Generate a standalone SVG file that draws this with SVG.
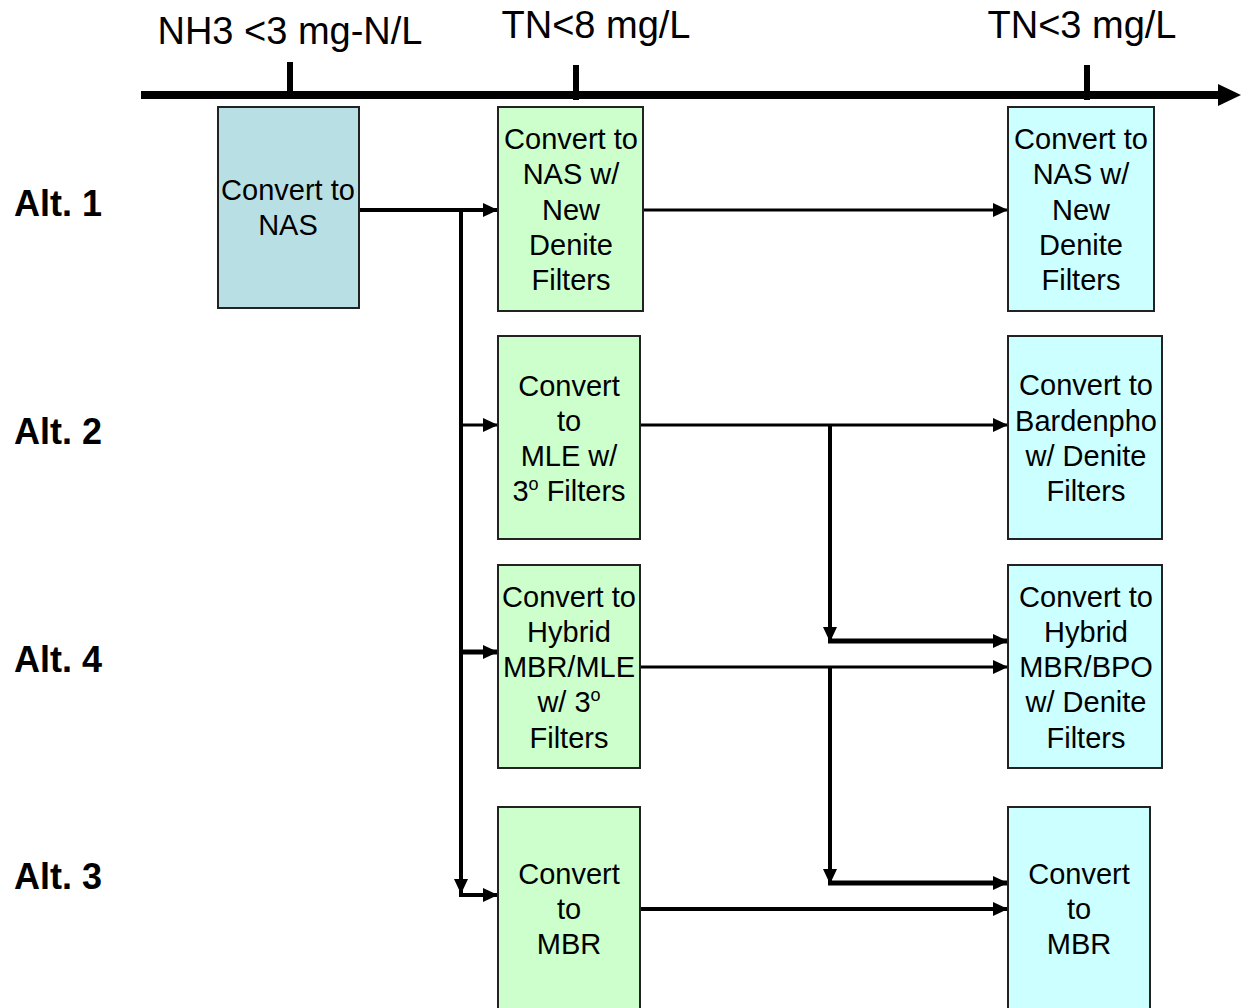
<svg xmlns="http://www.w3.org/2000/svg" width="1241" height="1008" viewBox="0 0 1241 1008">
<style>
text{font-family:"Liberation Sans",Arial,sans-serif;fill:#000}
.lbl{font-size:29px;text-anchor:middle}
.top{font-size:38px;text-anchor:middle}
.alt{font-size:36px;font-weight:bold}
.box{stroke:#222;stroke-width:2}
.g{fill:#ccffcc}
.c{fill:#ccffff}
.b{fill:#b8e0e4}
.ln{fill:none;stroke:#000}
.sup{font-size:18px}
</style>
<defs>
<marker id="ah" markerUnits="userSpaceOnUse" markerWidth="15" markerHeight="14" refX="15" refY="7" orient="auto">
<path d="M0,0 L15,7 L0,14 z" fill="#000"/>
</marker>
</defs>

<g id="timeline">
<line x1="141" y1="95" x2="1222" y2="95" stroke="#000" stroke-width="8"/>
<polygon points="1218,84 1241,95 1218,106" fill="#000"/>
<line x1="290" y1="62" x2="290" y2="95" stroke="#000" stroke-width="6"/>
<line x1="576" y1="65" x2="576" y2="100" stroke="#000" stroke-width="6"/>
<line x1="1087" y1="65" x2="1087" y2="100" stroke="#000" stroke-width="6"/>
<text class="top" x="290" y="44">NH3 &lt;3 mg-N/L</text>
<text class="top" x="596" y="38">TN&lt;8 mg/L</text>
<text class="top" x="1082" y="38">TN&lt;3 mg/L</text>
</g>

<g id="alt-labels">
<text class="alt" x="14" y="216">Alt. 1</text>
<text class="alt" x="14" y="444">Alt. 2</text>
<text class="alt" x="14" y="672">Alt. 4</text>
<text class="alt" x="14" y="889">Alt. 3</text>
</g>

<g id="connectors">
<path class="ln" stroke-width="4" d="M359,210 H498" marker-end="url(#ah)"/>
<path class="ln" stroke-width="4" d="M461,210 V894" marker-end="url(#ah)"/>
<path class="ln" stroke-width="4" d="M459,895 H498" marker-end="url(#ah)"/>
<path class="ln" stroke-width="3" d="M461,425 H498" marker-end="url(#ah)"/>
<path class="ln" stroke-width="5" d="M461,652 H498" marker-end="url(#ah)"/>
<path class="ln" stroke-width="3" d="M640,210 H1008" marker-end="url(#ah)"/>
<path class="ln" stroke-width="3" d="M640,425 H1008" marker-end="url(#ah)"/>
<path class="ln" stroke-width="4" d="M830,425 V642" marker-end="url(#ah)"/>
<path class="ln" stroke-width="5" d="M828,641 H1008" marker-end="url(#ah)"/>
<path class="ln" stroke-width="3" d="M640,667 H1008" marker-end="url(#ah)"/>
<path class="ln" stroke-width="4" d="M830,667 V884" marker-end="url(#ah)"/>
<path class="ln" stroke-width="5" d="M828,883 H1008" marker-end="url(#ah)"/>
<path class="ln" stroke-width="4" d="M640,909 H1008" marker-end="url(#ah)"/>
</g>

<g id="node-nas">
<rect class="box b" x="218" y="107" width="141" height="201"/>
<text class="lbl" x="288" y="200">Convert to</text>
<text class="lbl" x="288" y="235">NAS</text>
</g>

<g id="node-g1">
<rect class="box g" x="498" y="107" width="145" height="204"/>
<text class="lbl" x="571" y="149">Convert to</text>
<text class="lbl" x="571" y="184">NAS w/</text>
<text class="lbl" x="571" y="220">New</text>
<text class="lbl" x="571" y="255">Denite</text>
<text class="lbl" x="571" y="290">Filters</text>
</g>

<g id="node-c1">
<rect class="box c" x="1008" y="107" width="146" height="204"/>
<text class="lbl" x="1081" y="149">Convert to</text>
<text class="lbl" x="1081" y="184">NAS w/</text>
<text class="lbl" x="1081" y="220">New</text>
<text class="lbl" x="1081" y="255">Denite</text>
<text class="lbl" x="1081" y="290">Filters</text>
</g>

<g id="node-g2">
<rect class="box g" x="498" y="336" width="142" height="203"/>
<text class="lbl" x="569" y="396">Convert</text>
<text class="lbl" x="569" y="431">to</text>
<text class="lbl" x="569" y="466">MLE w/</text>
<text class="lbl" x="569" y="501">3<tspan class="sup" dy="-11">o</tspan><tspan dy="11"> Filters</tspan></text>
</g>

<g id="node-c2">
<rect class="box c" x="1008" y="336" width="154" height="203"/>
<text class="lbl" x="1086" y="395">Convert to</text>
<text class="lbl" x="1086" y="431">Bardenpho</text>
<text class="lbl" x="1086" y="466">w/ Denite</text>
<text class="lbl" x="1086" y="501">Filters</text>
</g>

<g id="node-g3">
<rect class="box g" x="498" y="565" width="142" height="203"/>
<text class="lbl" x="569" y="607">Convert to</text>
<text class="lbl" x="569" y="642">Hybrid</text>
<text class="lbl" x="569" y="677">MBR/MLE</text>
<text class="lbl" x="569" y="712">w/ 3<tspan class="sup" dy="-11">o</tspan></text>
<text class="lbl" x="569" y="748">Filters</text>
</g>

<g id="node-c3">
<rect class="box c" x="1008" y="565" width="154" height="203"/>
<text class="lbl" x="1086" y="607">Convert to</text>
<text class="lbl" x="1086" y="642">Hybrid</text>
<text class="lbl" x="1086" y="677">MBR/BPO</text>
<text class="lbl" x="1086" y="712">w/ Denite</text>
<text class="lbl" x="1086" y="748">Filters</text>
</g>

<g id="node-g4">
<rect class="box g" x="498" y="807" width="142" height="210"/>
<text class="lbl" x="569" y="884">Convert</text>
<text class="lbl" x="569" y="919">to</text>
<text class="lbl" x="569" y="954">MBR</text>
</g>

<g id="node-c4">
<rect class="box c" x="1008" y="807" width="142" height="210"/>
<text class="lbl" x="1079" y="884">Convert</text>
<text class="lbl" x="1079" y="919">to</text>
<text class="lbl" x="1079" y="954">MBR</text>
</g>
</svg>
